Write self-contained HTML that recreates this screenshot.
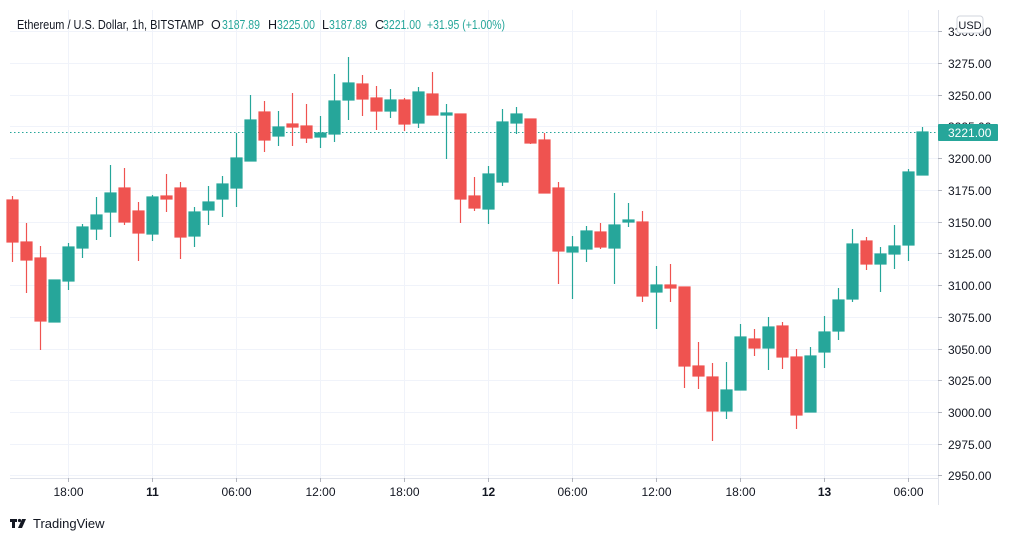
<!DOCTYPE html>
<html><head><meta charset="utf-8"><style>
html,body{margin:0;padding:0;background:#fff;width:1012px;height:541px;overflow:hidden;position:relative}
svg{display:block;font-family:"Liberation Sans","DejaVu Sans",sans-serif;position:absolute;left:0;top:0}
.t{position:absolute;top:485px;width:60px;margin-left:-30px;text-align:center;font:12px "Liberation Sans","DejaVu Sans",sans-serif;color:#131722;line-height:14px}
.b{font-weight:bold}
</style></head><body>
<svg width="1012" height="541" viewBox="0 0 1012 541" xmlns="http://www.w3.org/2000/svg">
<g stroke="#f0f3fa" stroke-width="1">
<line x1="10" x2="938" y1="31.5" y2="31.5"/><line x1="10" x2="938" y1="63.5" y2="63.5"/><line x1="10" x2="938" y1="95.5" y2="95.5"/><line x1="10" x2="938" y1="126.5" y2="126.5"/><line x1="10" x2="938" y1="158.5" y2="158.5"/><line x1="10" x2="938" y1="190.5" y2="190.5"/><line x1="10" x2="938" y1="222.5" y2="222.5"/><line x1="10" x2="938" y1="253.5" y2="253.5"/><line x1="10" x2="938" y1="285.5" y2="285.5"/><line x1="10" x2="938" y1="317.5" y2="317.5"/><line x1="10" x2="938" y1="349.5" y2="349.5"/><line x1="10" x2="938" y1="380.5" y2="380.5"/><line x1="10" x2="938" y1="412.5" y2="412.5"/><line x1="10" x2="938" y1="444.5" y2="444.5"/><line x1="10" x2="938" y1="475.5" y2="475.5"/>
<line x1="68.5" x2="68.5" y1="10" y2="478"/><line x1="152.5" x2="152.5" y1="10" y2="478"/><line x1="236.5" x2="236.5" y1="10" y2="478"/><line x1="320.5" x2="320.5" y1="10" y2="478"/><line x1="404.5" x2="404.5" y1="10" y2="478"/><line x1="488.5" x2="488.5" y1="10" y2="478"/><line x1="572.5" x2="572.5" y1="10" y2="478"/><line x1="656.5" x2="656.5" y1="10" y2="478"/><line x1="740.5" x2="740.5" y1="10" y2="478"/><line x1="824.5" x2="824.5" y1="10" y2="478"/><line x1="908.5" x2="908.5" y1="10" y2="478"/>
</g>
<g stroke="#e0e3eb"><line x1="10" x2="938" y1="478.5" y2="478.5"/><line x1="938.5" x2="938.5" y1="10" y2="505"/></g>
<g stroke="#b2b5be">
<line x1="938" x2="942" y1="31.5" y2="31.5"/><line x1="938" x2="942" y1="63.5" y2="63.5"/><line x1="938" x2="942" y1="95.5" y2="95.5"/><line x1="938" x2="942" y1="158.5" y2="158.5"/><line x1="938" x2="942" y1="190.5" y2="190.5"/><line x1="938" x2="942" y1="222.5" y2="222.5"/><line x1="938" x2="942" y1="253.5" y2="253.5"/><line x1="938" x2="942" y1="285.5" y2="285.5"/><line x1="938" x2="942" y1="317.5" y2="317.5"/><line x1="938" x2="942" y1="349.5" y2="349.5"/><line x1="938" x2="942" y1="380.5" y2="380.5"/><line x1="938" x2="942" y1="412.5" y2="412.5"/><line x1="938" x2="942" y1="444.5" y2="444.5"/><line x1="938" x2="942" y1="475.5" y2="475.5"/>
<line x1="68.5" x2="68.5" y1="478" y2="482"/><line x1="152.5" x2="152.5" y1="478" y2="482"/><line x1="236.5" x2="236.5" y1="478" y2="482"/><line x1="320.5" x2="320.5" y1="478" y2="482"/><line x1="404.5" x2="404.5" y1="478" y2="482"/><line x1="488.5" x2="488.5" y1="478" y2="482"/><line x1="572.5" x2="572.5" y1="478" y2="482"/><line x1="656.5" x2="656.5" y1="478" y2="482"/><line x1="740.5" x2="740.5" y1="478" y2="482"/><line x1="824.5" x2="824.5" y1="478" y2="482"/><line x1="908.5" x2="908.5" y1="478" y2="482"/>
</g>
<line x1="10" x2="938" y1="132.5" y2="132.5" stroke="#26a69a" stroke-dasharray="1.5 2.5"/>
<g stroke-width="1.2">
<g fill="#ef5350" stroke="#ef5350">
<line x1="12.5" x2="12.5" y1="196" y2="262"/><rect x="7" y="200" width="11" height="42"/>
<line x1="26.5" x2="26.5" y1="223" y2="293"/><rect x="21" y="242" width="11" height="18"/>
<line x1="40.5" x2="40.5" y1="246" y2="350"/><rect x="35" y="258" width="11" height="63"/>
<line x1="124.5" x2="124.5" y1="168" y2="225"/><rect x="119" y="188" width="11" height="34"/>
<line x1="138.5" x2="138.5" y1="202" y2="261"/><rect x="133" y="211" width="11" height="22"/>
<line x1="166.5" x2="166.5" y1="174" y2="212"/><rect x="161" y="196" width="11" height="3"/>
<line x1="180.5" x2="180.5" y1="182" y2="259"/><rect x="175" y="188" width="11" height="49"/>
<line x1="264.5" x2="264.5" y1="101" y2="152"/><rect x="259" y="112" width="11" height="28"/>
<line x1="292.5" x2="292.5" y1="93" y2="146"/><rect x="287" y="124" width="11" height="3"/>
<line x1="306.5" x2="306.5" y1="104" y2="143"/><rect x="301" y="126" width="11" height="12"/>
<line x1="362.5" x2="362.5" y1="75" y2="116"/><rect x="357" y="84" width="11" height="15"/>
<line x1="376.5" x2="376.5" y1="86" y2="130"/><rect x="371" y="98" width="11" height="13"/>
<line x1="404.5" x2="404.5" y1="98" y2="131"/><rect x="399" y="100" width="11" height="24"/>
<line x1="432.5" x2="432.5" y1="72" y2="115"/><rect x="427" y="94" width="11" height="21"/>
<line x1="460.5" x2="460.5" y1="114" y2="223"/><rect x="455" y="114" width="11" height="85"/>
<line x1="474.5" x2="474.5" y1="177" y2="211"/><rect x="469" y="196" width="11" height="12"/>
<line x1="530.5" x2="530.5" y1="119" y2="144"/><rect x="525" y="119" width="11" height="24"/>
<line x1="544.5" x2="544.5" y1="133" y2="193"/><rect x="539" y="140" width="11" height="53"/>
<line x1="558.5" x2="558.5" y1="182" y2="284"/><rect x="553" y="188" width="11" height="63"/>
<line x1="600.5" x2="600.5" y1="223" y2="249"/><rect x="595" y="232" width="11" height="15"/>
<line x1="642.5" x2="642.5" y1="211" y2="302"/><rect x="637" y="222" width="11" height="74"/>
<line x1="670.5" x2="670.5" y1="264" y2="302"/><rect x="665" y="285" width="11" height="3"/>
<line x1="684.5" x2="684.5" y1="287" y2="388"/><rect x="679" y="287" width="11" height="79"/>
<line x1="698.5" x2="698.5" y1="342" y2="389"/><rect x="693" y="366" width="11" height="10"/>
<line x1="712.5" x2="712.5" y1="363" y2="441"/><rect x="707" y="377" width="11" height="34"/>
<line x1="754.5" x2="754.5" y1="329" y2="356"/><rect x="749" y="339" width="11" height="9"/>
<line x1="782.5" x2="782.5" y1="322" y2="369"/><rect x="777" y="326" width="11" height="31"/>
<line x1="796.5" x2="796.5" y1="349" y2="429"/><rect x="791" y="357" width="11" height="58"/>
<line x1="866.5" x2="866.5" y1="237" y2="270"/><rect x="861" y="241" width="11" height="23"/>
</g>
<g fill="#26a69a" stroke="#26a69a">
<line x1="54.5" x2="54.5" y1="280" y2="322"/><rect x="49" y="280" width="11" height="42"/>
<line x1="68.5" x2="68.5" y1="243" y2="290"/><rect x="63" y="247" width="11" height="34"/>
<line x1="82.5" x2="82.5" y1="224" y2="258"/><rect x="77" y="227" width="11" height="21"/>
<line x1="96.5" x2="96.5" y1="197" y2="240"/><rect x="91" y="215" width="11" height="14"/>
<line x1="110.5" x2="110.5" y1="165" y2="237"/><rect x="105" y="193" width="11" height="19"/>
<line x1="152.5" x2="152.5" y1="195" y2="241"/><rect x="147" y="197" width="11" height="37"/>
<line x1="194.5" x2="194.5" y1="207" y2="247"/><rect x="189" y="212" width="11" height="24"/>
<line x1="208.5" x2="208.5" y1="186" y2="225"/><rect x="203" y="202" width="11" height="8"/>
<line x1="222.5" x2="222.5" y1="176" y2="217"/><rect x="217" y="184" width="11" height="15"/>
<line x1="236.5" x2="236.5" y1="133" y2="207"/><rect x="231" y="158" width="11" height="30"/>
<line x1="250.5" x2="250.5" y1="95" y2="161"/><rect x="245" y="120" width="11" height="41"/>
<line x1="278.5" x2="278.5" y1="111" y2="146"/><rect x="273" y="127" width="11" height="9"/>
<line x1="320.5" x2="320.5" y1="116" y2="148"/><rect x="315" y="133" width="11" height="4"/>
<line x1="334.5" x2="334.5" y1="74" y2="142"/><rect x="329" y="101" width="11" height="33"/>
<line x1="348.5" x2="348.5" y1="57" y2="120"/><rect x="343" y="83" width="11" height="17"/>
<line x1="390.5" x2="390.5" y1="89" y2="118"/><rect x="385" y="100" width="11" height="11"/>
<line x1="418.5" x2="418.5" y1="87" y2="128"/><rect x="413" y="92" width="11" height="31"/>
<line x1="446.5" x2="446.5" y1="104" y2="159"/><rect x="441" y="113" width="11" height="2"/>
<line x1="488.5" x2="488.5" y1="166" y2="224"/><rect x="483" y="174" width="11" height="35"/>
<line x1="502.5" x2="502.5" y1="109" y2="186"/><rect x="497" y="122" width="11" height="60"/>
<line x1="516.5" x2="516.5" y1="107" y2="134"/><rect x="511" y="114" width="11" height="9"/>
<line x1="572.5" x2="572.5" y1="236" y2="299"/><rect x="567" y="247" width="11" height="5"/>
<line x1="586.5" x2="586.5" y1="226" y2="262"/><rect x="581" y="231" width="11" height="18"/>
<line x1="614.5" x2="614.5" y1="193" y2="284"/><rect x="609" y="225" width="11" height="23"/>
<line x1="628.5" x2="628.5" y1="203" y2="227"/><rect x="623" y="220" width="11" height="2"/>
<line x1="656.5" x2="656.5" y1="266" y2="329"/><rect x="651" y="285" width="11" height="7"/>
<line x1="726.5" x2="726.5" y1="362" y2="419"/><rect x="721" y="390" width="11" height="21"/>
<line x1="740.5" x2="740.5" y1="324" y2="390"/><rect x="735" y="337" width="11" height="53"/>
<line x1="768.5" x2="768.5" y1="317" y2="370"/><rect x="763" y="327" width="11" height="21"/>
<line x1="810.5" x2="810.5" y1="347" y2="412"/><rect x="805" y="356" width="11" height="56"/>
<line x1="824.5" x2="824.5" y1="316" y2="368"/><rect x="819" y="332" width="11" height="20"/>
<line x1="838.5" x2="838.5" y1="288" y2="340"/><rect x="833" y="300" width="11" height="31"/>
<line x1="852.5" x2="852.5" y1="229" y2="302"/><rect x="847" y="244" width="11" height="55"/>
<line x1="880.5" x2="880.5" y1="247" y2="292"/><rect x="875" y="254" width="11" height="10"/>
<line x1="894.5" x2="894.5" y1="225" y2="269"/><rect x="889" y="246" width="11" height="8"/>
<line x1="908.5" x2="908.5" y1="169" y2="261"/><rect x="903" y="172" width="11" height="73"/>
<line x1="922.5" x2="922.5" y1="127" y2="175"/><rect x="917" y="132" width="11" height="43"/>
</g>
</g>
<g font-size="12" fill="#131722">
<text x="948" y="36">3300.00</text><text x="948" y="68">3275.00</text><text x="948" y="100">3250.00</text><text x="948" y="131">3225.00</text><text x="948" y="163">3200.00</text><text x="948" y="195">3175.00</text><text x="948" y="227">3150.00</text><text x="948" y="258">3125.00</text><text x="948" y="290">3100.00</text><text x="948" y="322">3075.00</text><text x="948" y="354">3050.00</text><text x="948" y="385">3025.00</text><text x="948" y="417">3000.00</text><text x="948" y="449">2975.00</text><text x="948" y="480">2950.00</text>
</g>
<rect x="938" y="124" width="60" height="17" rx="1" fill="#26a69a"/>
<text x="948" y="137" font-size="12" fill="#fff">3221.00</text>
<rect x="957" y="16" width="26" height="17" rx="3" fill="#fff" stroke="#d1d4dc"/>
<text x="970" y="29" font-size="11" fill="#131722" text-anchor="middle">USD</text>
<g font-size="12.5" fill="#131722">
<text x="17" y="29" textLength="187" lengthAdjust="spacingAndGlyphs">Ethereum / U.S. Dollar, 1h, BITSTAMP</text>
<text x="211" y="29">O</text><text x="222" y="29" fill="#26a69a" textLength="38" lengthAdjust="spacingAndGlyphs">3187.89</text>
<text x="268" y="29">H</text><text x="277" y="29" fill="#26a69a" textLength="38" lengthAdjust="spacingAndGlyphs">3225.00</text>
<text x="322" y="29">L</text><text x="329" y="29" fill="#26a69a" textLength="38" lengthAdjust="spacingAndGlyphs">3187.89</text>
<text x="375" y="29">C</text><text x="383" y="29" fill="#26a69a" textLength="38" lengthAdjust="spacingAndGlyphs">3221.00</text>
<text x="427" y="29" fill="#26a69a" textLength="78" lengthAdjust="spacingAndGlyphs">+31.95 (+1.00%)</text>
</g>
<g fill="#131722">
<rect x="10" y="519" width="7" height="3"/><rect x="12" y="519" width="3" height="9"/>
<circle cx="19.5" cy="520.5" r="1.6"/><polygon points="22,519 26,519 22,528 18,528"/>
<text x="33" y="528" font-size="13">TradingView</text>
</g>
</svg>
<div class="t" style="left:68.5px">18:00</div>
<div class="t b" style="left:152.5px">11</div>
<div class="t" style="left:236.5px">06:00</div>
<div class="t" style="left:320.5px">12:00</div>
<div class="t" style="left:404.5px">18:00</div>
<div class="t b" style="left:488.5px">12</div>
<div class="t" style="left:572.5px">06:00</div>
<div class="t" style="left:656.5px">12:00</div>
<div class="t" style="left:740.5px">18:00</div>
<div class="t b" style="left:824.5px">13</div>
<div class="t" style="left:908.5px">06:00</div>
</body></html>
